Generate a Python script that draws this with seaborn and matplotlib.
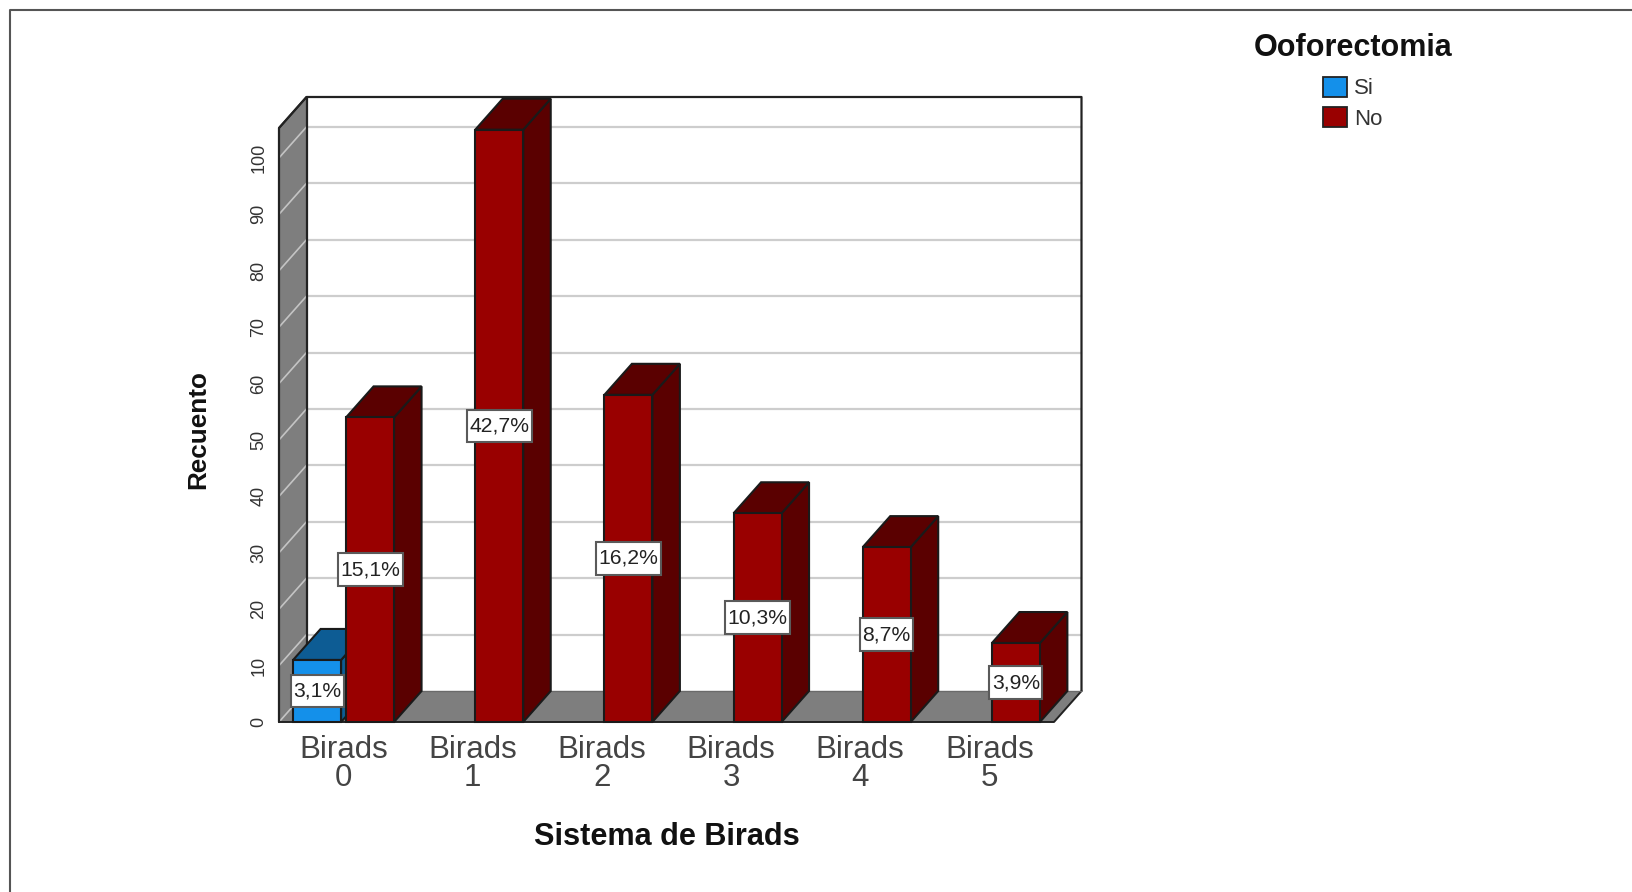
import numpy as np
import pandas as pd
import matplotlib
matplotlib.use("Agg")
import matplotlib.pyplot as plt
import seaborn as sns
from matplotlib.patches import Polygon, Patch
from matplotlib.lines import Line2D
from matplotlib.path import Path

categorias = ["Birads\n0", "Birads\n1", "Birads\n2", "Birads\n3", "Birads\n4", "Birads\n5"]
si_recuento = [11, None, None, None, None, None]
no_recuento = [54, 105, 58, 37, 31, 14]
si_etiquetas = ["3,1%"]
no_etiquetas = ["15,1%", "42,7%", "16,2%", "10,3%", "8,7%", "3,9%"]
y_ticks = [0, 10, 20, 30, 40, 50, 60, 70, 80, 90, 100]

W, H = 1632, 892
# front plane of the fake 3D box, in pixels
X0, X1, Y0, Y1 = 279, 1054, 722, 128
DEPTH_X, DEPTH_Y = 27.5, 31
YMAX = 105.3

AZUL, AZUL_OSC = "#1490EA", "#0D5C94"
ROJO, ROJO_OSC = "#990000", "#5A0000"
GRIS = "#7E7E7E"
BORDE = "#1A1A1A"


def caja_etiqueta(x0, y0, width, height, mutation_size):
    # label box is tight at the sides but tall, no stock boxstyle does that
    px, py = 0.12 * mutation_size, 0.32 * mutation_size
    xa, xb, ya, yb = x0 - px, x0 + width + px, y0 - py, y0 + height + py
    return Path([(xa, ya), (xb, ya), (xb, yb), (xa, yb), (xa, ya)], closed=True)


sns.set_theme(style="white")
plt.rcParams["font.family"] = ["Liberation Sans", "DejaVu Sans"]

df = pd.DataFrame({
    "cat": categorias * 2,
    "grupo": ["Si"] * 6 + ["No"] * 6,
    "n": si_recuento + no_recuento,
}).dropna()

fig = plt.figure(figsize=(W / 100, H / 100), dpi=100, facecolor="white")
ax = fig.add_axes([X0 / W, 1 - Y0 / H, (X1 - X0) / W, (Y0 - Y1) / H])
sns.barplot(data=df, x="cat", y="n", hue="grupo", order=categorias, hue_order=["Si", "No"],
            palette={"Si": AZUL, "No": ROJO}, saturation=1, errorbar=None,
            width=0.82, gap=0.094, dodge=True, legend=False, ax=ax,
            edgecolor=BORDE, linewidth=1.5)
ax.set_xlim(-0.5, 5.5)
ax.set_ylim(0, YMAX)

dx = DEPTH_X * 6 / (X1 - X0)
dy = DEPTH_Y * YMAX / (Y0 - Y1)
xa, xb = -0.5, 5.5

# walls and floor
ax.add_patch(Polygon([(xa, 0), (xb, 0), (xb + dx, dy), (xa + dx, dy)], fc=GRIS, ec="none", zorder=0.5, clip_on=False))
ax.add_patch(Polygon([(xa, 0), (xa + dx, dy), (xa + dx, YMAX + dy), (xa, YMAX)], fc=GRIS, ec="none", zorder=0.5, clip_on=False))

# gridlines run along the back wall and fold down the left wall
for t in y_ticks[1:]:
    ax.plot([xa + dx, xb + dx], [t + dy, t + dy], color="#CDCDCD", lw=1.6, zorder=0.6, clip_on=False)
    ax.plot([xa, xa + dx], [t, t + dy], color="#C4C4C4", lw=1.2, zorder=0.6, clip_on=False)
ax.plot([xa, xa + dx], [0, dy], color="#C4C4C4", lw=1.2, zorder=0.6, clip_on=False)

# box outline
ax.plot([xa, xa, xa + dx, xb + dx, xb + dx], [0, YMAX, YMAX + dy, YMAX + dy, dy], color="#222222", lw=1.6, zorder=0.7, clip_on=False)
ax.plot([xa, xa + dx], [YMAX, YMAX + dy], color="#222222", lw=1.4, zorder=0.7, clip_on=False)
ax.plot([xa + dx, xa + dx], [dy, YMAX + dy], color="#222222", lw=1.6, zorder=0.7, clip_on=False)
ax.plot([xa, xb, xb + dx], [0, 0, dy], color="#222222", lw=1.4, zorder=0.7, clip_on=False)
ax.plot([xa + dx, xb + dx], [dy, dy], color="#6A6A6A", lw=1, zorder=0.7, clip_on=False)

# sides and tops of the bars, taken from the bars seaborn drew
z = 2.0
for cont, color in zip(ax.containers, [AZUL_OSC, ROJO_OSC]):
    for bar in cont:
        x, w, h = bar.get_x(), bar.get_width(), bar.get_height()
        ax.add_patch(Polygon([(x + w, 0), (x + w + dx, dy), (x + w + dx, h + dy), (x + w, h)],
                             fc=color, ec=BORDE, lw=1.5, zorder=z, clip_on=False))
        ax.add_patch(Polygon([(x, h), (x + w, h), (x + w + dx, h + dy), (x + dx, h + dy)],
                             fc=color, ec=BORDE, lw=1.5, zorder=z, clip_on=False))
        bar.set_zorder(z + 0.1)
        bar.set_clip_on(False)
        z += 0.2

for cont, etiquetas in zip(ax.containers, [si_etiquetas, no_etiquetas]):
    for bar, txt in zip(cont, etiquetas):
        ax.text(bar.get_x() + bar.get_width() / 2, bar.get_height() / 2, txt,
                ha="center", va="center", fontsize=15.2, color="#222222", zorder=10,
                bbox=dict(boxstyle=caja_etiqueta, fc="white", ec="#5A5A5A", lw=1.5))

ax.set_yticks(y_ticks)
ax.set_yticklabels([str(t) for t in y_ticks], rotation=90, va="center", fontsize=13, color="#333333")
ax.set_xticks(range(6))
ax.set_xticklabels(categorias, fontsize=22.5, color="#444444", linespacing=0.92)
ax.tick_params(axis="y", length=0, pad=8.5)
ax.tick_params(axis="x", length=0, pad=9)
sns.despine(ax=ax, left=True, bottom=True)

ax.set_xlabel("Sistema de Birads", fontsize=22.1, fontweight="bold", color="#111111", va="center")
ax.xaxis.set_label_coords((667 - X0) / (X1 - X0), (Y0 - 837) / (Y0 - Y1))
ax.set_ylabel("Recuento", fontsize=18.8, fontweight="bold", color="#111111", va="center")
ax.yaxis.set_label_coords((198 - X0) / (X1 - X0), (Y0 - 430) / (Y0 - Y1))

handles = [Patch(fc=AZUL, ec="#222222", lw=1.3, label="Si"), Patch(fc=ROJO, ec="#222222", lw=1.3, label="No")]
leg = fig.legend(handles=handles, title="Ooforectomia", frameon=False, loc="upper center",
                 bbox_to_anchor=(1353 / W, 1 - 33 / H), fontsize=16,
                 title_fontproperties={"weight": "bold", "size": 22},
                 handlelength=1.08, handleheight=1.0, handletextpad=0.3, labelspacing=0.36,
                 borderpad=0, borderaxespad=0)
leg._legend_box.sep = 10
for t in leg.get_texts():
    t.set_color("#333333")
leg.get_title().set_color("#111111")

# outer page frame
fig.add_artist(Line2D([10 / W, 10 / W, 1], [0, 1 - 10 / H, 1 - 10 / H], color="#555555", lw=1.5))

fig.savefig("out.png", dpi=100)
